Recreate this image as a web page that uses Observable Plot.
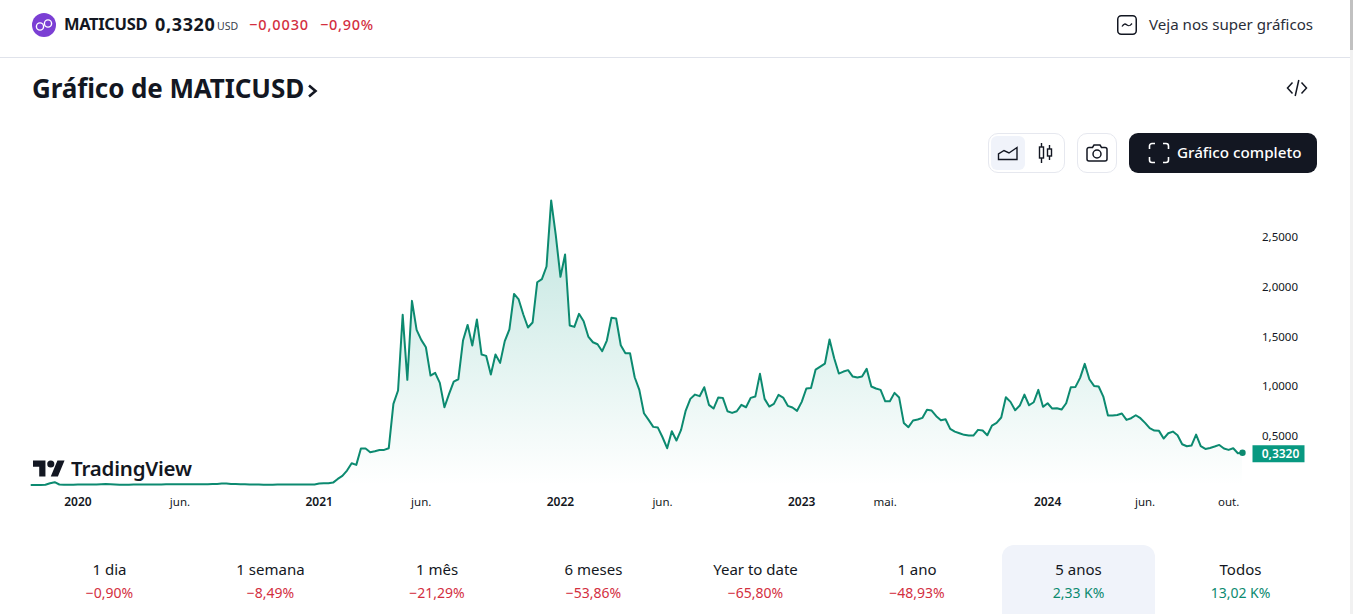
<!DOCTYPE html>
<html lang="pt"><head><meta charset="utf-8">
<script src="https://cdn.jsdelivr.net/npm/d3@7"></script>
<script src="https://cdn.jsdelivr.net/npm/@observablehq/plot@0.6"></script>
<style>
html,body{margin:0;padding:0;width:1353px;height:614px;overflow:hidden;background:#fff;font-family:"Noto Sans",sans-serif;color:#131722}
.a{position:absolute;white-space:nowrap;line-height:1}
.red{color:#d32f3f}.green{color:#0c8a70}
#chart{position:absolute;left:0;top:190px}
#chart svg{display:block;overflow:visible}
.box{position:absolute;box-sizing:border-box;border:1px solid #e6e8ef;border-radius:10px;background:#fff}
.per{position:absolute;top:545px;height:69px;width:153px;text-align:center;box-sizing:border-box}
.per div{position:absolute;left:0;right:0;white-space:nowrap;line-height:1}
.per .n{top:17px;font-size:15px}.per .v{top:41px;font-size:14px}
</style></head><body>
<svg class="a" style="left:32px;top:13px" width="24" height="24" viewBox="0 0 24 24"><circle cx="12" cy="12" r="12" fill="#7b3fd4"/><g fill="none" stroke="#fff" stroke-width="1.4"><circle cx="8" cy="13.5" r="3.6"/><circle cx="16" cy="10.500" r="3.6"/></g></svg>
<div class="a" style="left:64px;top:16px;font-size:16.5px;font-weight:700;letter-spacing:-.35px">MATICUSD</div>
<div class="a" style="left:155px;top:15px;font-size:18px;font-weight:700;letter-spacing:.65px">0,3320</div>
<div class="a" style="left:217px;top:21px;font-size:10.5px;color:#3a3f4c">USD</div>
<div class="a red" style="left:249px;top:17px;font-size:14.5px;font-weight:500;letter-spacing:.9px">−0,0030</div>
<div class="a red" style="left:320px;top:17px;font-size:14.5px;font-weight:500;letter-spacing:.7px">−0,90%</div>
<svg class="a" style="left:1117px;top:15px" width="20" height="20" viewBox="0 0 20 20" fill="none" stroke="#131722" stroke-width="1.5"><rect x=".75" y=".75" width="18.5" height="18.5" rx="3.5"/><path d="M5 11.5c2-3 3-3 5-1.5s3 1 5-1.5" stroke-width="1.3"/></svg>
<div class="a" style="left:1149px;top:17px;font-size:15.1px;color:#2a2e39">Veja nos super gráficos</div>
<div class="a" style="left:0;top:57px;width:1350px;height:1px;background:#e0e3eb"></div>
<div class="a" style="left:32px;top:75px;font-size:26px;font-weight:700;letter-spacing:-.1px">Gráfico de MATICUSD</div>
<svg class="a" style="left:306px;top:83px" width="13" height="16" viewBox="0 0 13 16" fill="none" stroke="#131722" stroke-width="2.6"><path d="M3 2.5 9.500 8 3 13.500"/></svg>
<svg class="a" style="left:1286px;top:79px" width="22" height="18" viewBox="0 0 22 18" fill="none" stroke="#131722" stroke-width="1.5"><path d="M6.5 3.5 1.5 9l5 5.500M15.500 3.500l5 5.500-5 5.500M12.800 1 9.200 17"/></svg>

<div class="box" style="left:988px;top:133px;width:77px;height:40px"></div>
<div class="a" style="left:991px;top:136px;width:34px;height:34px;background:#f0f3fa;border-radius:6px"></div>
<svg class="a" style="left:997px;top:146px" width="22" height="15" viewBox="0 0 22 15" fill="none" stroke="#131722" stroke-width="1.4"><path d="M1.500 13.500V8l5.500-3.500 5 2.500 8-5.500v12z"/></svg>
<svg class="a" style="left:1037px;top:142px" width="17" height="22" viewBox="0 0 17 22" fill="none" stroke="#131722" stroke-width="1.4"><rect x="2.500" y="5" width="4" height="11"/><path d="M4.500 1v4M4.500 16v5"/><rect x="10.500" y="7" width="4" height="7"/><path d="M12.500 3v4M12.500 14v4"/></svg>
<div class="box" style="left:1077px;top:133px;width:40px;height:40px"></div>
<svg class="a" style="left:1086px;top:144px" width="22" height="18" viewBox="0 0 22 18" fill="none" stroke="#131722" stroke-width="1.5"><path d="M1 5.500a2 2 0 0 1 2-2h3.500L8 1h6l1.500 2.500H19a2 2 0 0 1 2 2V15a2 2 0 0 1-2 2H3a2 2 0 0 1-2-2z"/><circle cx="11" cy="10" r="4"/></svg>
<div class="a" style="left:1129px;top:133px;width:188px;height:40px;background:#131722;border-radius:9px"></div>
<svg class="a" style="left:1148px;top:142px" width="22" height="22" viewBox="0 0 22 22" fill="none" stroke="#fff" stroke-width="1.6"><path d="M7 1.500H4A2.500 2.500 0 0 0 1.500 4v3M15 1.500h3A2.500 2.500 0 0 1 20.500 4v3M7 20.500H4A2.500 2.500 0 0 1 1.500 18v-3M15 20.500h3a2.500 2.500 0 0 0 2.500-2.500v-3"/></svg>
<div class="a" style="left:1177px;top:145px;font-size:15.2px;font-weight:500;color:#fff">Gráfico completo</div>

<div id="chart"></div>

<svg class="a" style="left:33px;top:460px" width="32" height="17" viewBox="0 4 36 18" fill="#131722"><path d="M14 22H7V11H0V4h14v18zM28 22h-8l7.500-18h8L28 22z"/><circle cx="20" cy="8" r="4"/></svg>
<div class="a" style="left:71px;top:458px;font-size:20.5px;font-weight:600;letter-spacing:-.2px">TradingView</div>

<div id="periods"></div>
<div class="a" style="left:1350px;top:0;width:3px;height:614px;background:#f1f1f1"></div>
<div class="a" style="left:1350px;top:0;width:3px;height:50px;background:#c1c1c1"></div>

<script>
const startWeek = "2019-10-21";
const closes = [
0.010,0.010,0.010,0.012,0.027,0.037,0.014,0.012,0.012,0.012,
0.013,0.013,0.013,0.014,0.015,0.016,0.018,0.017,0.015,0.012,
0.012,0.012,0.013,0.014,0.014,0.015,0.015,0.015,0.015,0.016,
0.016,0.016,0.016,0.016,0.017,0.017,0.017,0.017,0.017,0.018,
0.020,0.023,0.024,0.020,0.018,0.017,0.016,0.015,0.014,0.013,
0.012,0.012,0.012,0.013,0.013,0.014,0.014,0.014,0.014,0.014,
0.014,0.015,0.023,0.027,0.027,0.033,0.070,0.100,0.154,0.227,
0.211,0.375,0.375,0.338,0.348,0.361,0.361,0.378,0.823,0.957,
1.716,1.064,1.856,1.565,1.465,1.391,1.107,1.134,1.033,0.789,
0.923,1.047,1.070,1.458,1.615,1.408,1.669,1.318,1.304,1.117,
1.318,1.234,1.452,1.569,1.926,1.870,1.719,1.589,1.639,2.043,
2.074,2.201,2.863,2.512,2.097,2.321,1.609,1.595,1.726,1.652,
1.498,1.441,1.421,1.351,1.458,1.686,1.679,1.411,1.331,1.331,
1.090,0.963,0.729,0.662,0.592,0.585,0.488,0.378,0.548,0.455,
0.562,0.756,0.873,0.916,0.900,0.990,0.813,0.776,0.886,0.883,
0.749,0.732,0.749,0.813,0.789,0.883,0.896,1.124,0.873,0.796,
0.823,0.913,0.886,0.803,0.786,0.753,0.843,0.977,0.983,1.167,
1.197,1.227,1.468,1.281,1.127,1.147,1.161,1.097,1.087,1.097,
1.174,0.997,0.977,0.963,0.849,0.849,0.933,0.886,0.632,0.589,
0.656,0.666,0.682,0.763,0.756,0.699,0.659,0.669,0.572,0.545,
0.528,0.512,0.505,0.505,0.562,0.555,0.508,0.605,0.632,0.686,
0.890,0.843,0.759,0.806,0.916,0.809,0.839,0.963,0.793,0.829,
0.776,0.779,0.766,0.829,0.990,0.993,1.084,1.224,1.070,1.003,
0.997,0.896,0.706,0.706,0.712,0.726,0.662,0.679,0.709,0.679,
0.632,0.579,0.555,0.552,0.475,0.528,0.545,0.508,0.418,0.398,
0.405,0.515,0.398,0.371,0.381,0.395,0.411,0.375,0.361,0.378,
0.328,0.332];
const yearTickDates = ["2019-12-30","2020-12-28","2021-12-27","2022-12-26","2024-01-01"];
const yearTickLabels = ["2020","2021","2022","2023","2024"];
const monthTickDates = ["2020-06-01","2021-05-31","2022-05-30","2023-05-01","2024-05-27","2024-09-30"];
const monthTickLabels = ["jun.","jun.","jun.","mai.","jun.","out."];
const priceTicks = [0.5,1,1.5,2,2.5];
const periodNames = ["1 dia","1 semana","1 mês","6 meses","Year to date","1 ano","5 anos","Todos"];
const periodChanges = ["−0,90%","−8,49%","−21,29%","−53,86%","−65,80%","−48,93%","2,33 K%","13,02 K%"];
const periodCentres = [109.5,270.5,437,593.5,755.5,917,1078.5,1240.5];
const activePeriod = "5 anos";
const lastLabel = "0,3320";

const teal = "#0c8a70";
const dates = closes.map((_, i) => d3.utcWeek.offset(new Date(startWeek), i));
const series = closes.map((c, i) => ({date: dates[i], close: c}));
const last = series[series.length - 1];
const parse = s => new Date(s);
const fmtPrice = d => d.toFixed(4).replace(".", ",");
const labelFrom = (ds, ls) => d => ls[ds.findIndex(s => +parse(s) === +d)];

const gradient = () => {
  const defs = d3.create("svg:defs");
  const g = defs.append("linearGradient").attr("id", "fade").attr("x1", 0).attr("x2", 0).attr("y1", 0).attr("y2", 1);
  g.append("stop").attr("offset", "0%").attr("stop-color", "#089981").attr("stop-opacity", 0.26);
  g.append("stop").attr("offset", "100%").attr("stop-color", "#089981").attr("stop-opacity", 0);
  return defs.node();
};

const chart = Plot.plot({
  width: 1353, height: 330,
  marginLeft: 32, marginRight: 111, marginTop: 6.3, marginBottom: 34.6,
  style: {fontFamily: '"Noto Sans",sans-serif', background: "transparent"},
  x: {type: "utc", domain: [dates[0], last.date], range: [31, 1242]},
  y: {domain: [0, 2.9]},
  marks: [
    gradient,
    Plot.areaY(series, {x: "date", y: "close", fill: "url(#fade)"}),
    Plot.lineY(series, {x: "date", y: "close", stroke: teal, strokeWidth: 2, strokeLinejoin: "round"}),
    Plot.dot([last], {x: "date", y: "close", r: 3.2, fill: teal}),
    Plot.dot([last], {x: "date", y: "close", dx: 36, dy: 1, r: 8, fill: "#089981",
      symbol: {draw(c) { c.rect(-26, -8.5, 52, 17); }}}),
    Plot.text([last], {x: "date", y: "close", dx: 38, dy: 1, text: () => lastLabel, fill: "#fff", fontSize: 12, fontWeight: 600}),
    Plot.axisY({ticks: priceTicks, tickFormat: fmtPrice, anchor: "right", tickSize: 0, tickPadding: 19.5, dy: 0.5, label: null, fontSize: 11.5, fill: "#131722"}),
    Plot.axisX({ticks: yearTickDates.map(parse), tickFormat: labelFrom(yearTickDates, yearTickLabels), tickSize: 0, tickPadding: 12, label: null, fontSize: 12, fontWeight: 600, fill: "#131722"}),
    Plot.axisX({ticks: monthTickDates.map(parse), tickFormat: labelFrom(monthTickDates, monthTickLabels), tickSize: 0, tickPadding: 12, label: null, fontSize: 11.5, fill: "#131722"})
  ]
});
document.getElementById("chart").append(chart);

const host = document.getElementById("periods");
periodNames.forEach((n, i) => {
  const el = document.createElement("div");
  el.className = "per";
  el.style.left = (periodCentres[i] - 76.5) + "px";
  if (n === activePeriod) { el.style.background = "#f0f3fa"; el.style.borderRadius = "12px 12px 0 0"; }
  const neg = periodChanges[i].startsWith("−");
  el.innerHTML = `<div class="n">${n}</div><div class="v ${neg ? "red" : "green"}">${periodChanges[i]}</div>`;
  host.append(el);
});
</script>
</body></html>
